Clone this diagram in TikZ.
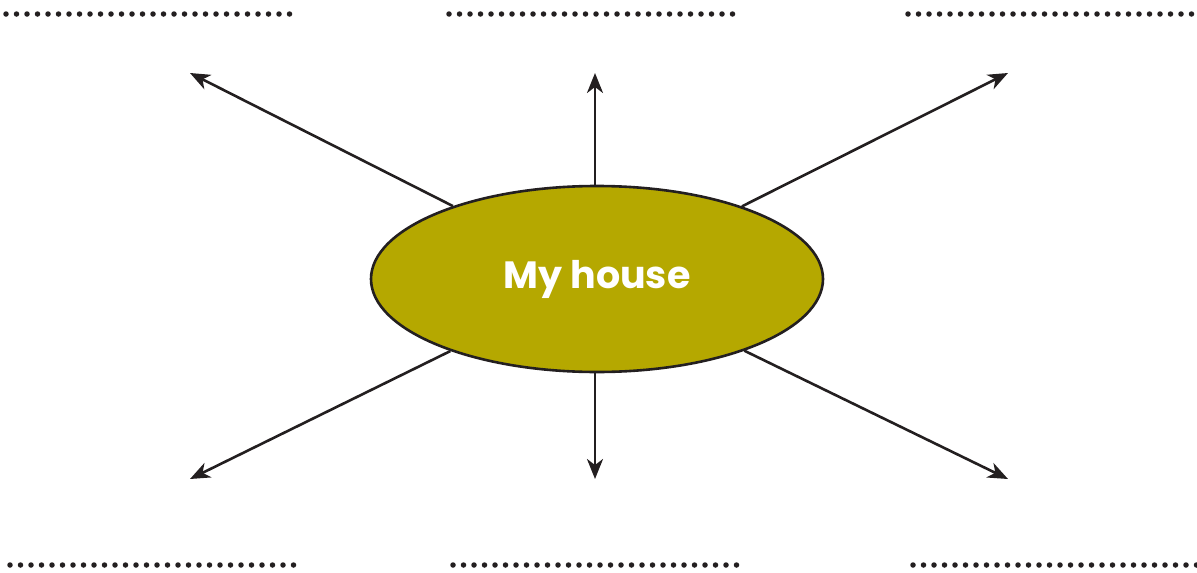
\documentclass[tikz,border=0pt]{standalone}
\usepackage{fontspec}
\newfontfamily\labelfont{Poppins}
\usetikzlibrary{arrows.meta,shapes.geometric}
\definecolor{olive}{RGB}{181,168,0}
\definecolor{ink}{RGB}{35,31,32}
\tikzset{
  dots/.style={ink,line width=5.5pt,line cap=round,dash pattern=on 0pt off 10.5pt},
  spoke/.style={ink,line width=2.6pt,-{Stealth[length=20pt,width=16pt,inset=6pt]}},
  hub/.style={ellipse,draw=ink,line width=2.6pt,fill=olive,minimum width=452pt,minimum height=186pt,inner sep=0pt,text=white,font=\labelfont\bfseries\fontsize{38}{44}\selectfont}
}
\begin{document}
\begin{tikzpicture}[x=1pt,y=-1pt]
\useasboundingbox (0,0) rectangle (1197,573);
\draw[dots] (6,14) -- (291,14);
\draw[dots] (449,14) -- (734,14);
\draw[dots] (908,14) -- (1193,14);
\draw[dots] (10,565) -- (295,565);
\draw[dots] (453,565) -- (738,565);
\draw[dots] (913,565) -- (1197,565);
\node[hub] (h) at (597,279) {My house};
\coordinate (n) at (595,73);
\coordinate (s) at (595,479);
\coordinate (nw) at (190,73);
\coordinate (ne) at (1008,73);
\coordinate (sw) at (190,479);
\coordinate (se) at (1008,479);
\draw[spoke] (h.north -| n) -- (n);
\draw[spoke] (h.south -| s) -- (s);
\draw[spoke] (h) -- (nw);
\draw[spoke] (h) -- (ne);
\draw[spoke] (h) -- (sw);
\draw[spoke] (h) -- (se);
\end{tikzpicture}
\end{document}
